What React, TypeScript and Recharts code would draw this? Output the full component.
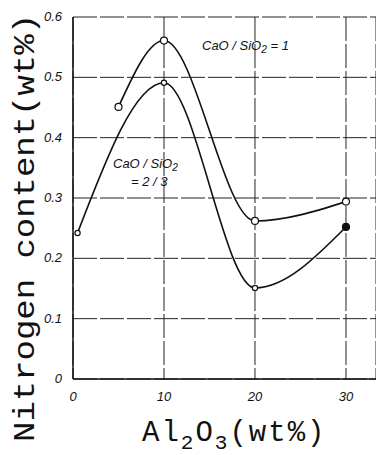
import React from "react";
import { LineChart, Line, XAxis, YAxis, CartesianGrid } from "recharts";

// CaO/SiO2 = 1 (open circles)
const ratio1Al2O3 = [5, 10, 20, 30];
const ratio1Nitrogen = [0.451, 0.561, 0.262, 0.294];

// CaO/SiO2 = 2/3
const ratio23Al2O3 = [0.5, 10, 20, 30];
const ratio23Nitrogen = [0.242, 0.491, 0.151, 0.252];

const xTicks = [0, 10, 20, 30];
const yTicks = [0, 0.1, 0.2, 0.3, 0.4, 0.5, 0.6];

const ratio1Data = ratio1Al2O3.map((x, i) => ({ x, n: ratio1Nitrogen[i] }));
const ratio23Data = ratio23Al2O3.map((x, i) => ({ x, n: ratio23Nitrogen[i] }));

const tickFont = "'Liberation Sans', Arial, sans-serif";
const monoFont = "'Liberation Mono', 'DejaVu Sans Mono', monospace";

const XTick = (props: any) => {
  const { x, y, payload } = props;
  return (
    <text
      x={x}
      y={y + 14}
      textAnchor="middle"
      fontFamily={tickFont}
      fontStyle="italic"
      fontSize={13}
      fill="#111"
    >
      {payload.value}
    </text>
  );
};

const YTick = (props: any) => {
  const { x, y, payload } = props;
  const v = payload.value === 0 ? "0" : Number(payload.value).toFixed(1);
  return (
    <text
      x={x - 3}
      y={y + 4}
      textAnchor="end"
      fontFamily={tickFont}
      fontStyle="italic"
      fontSize={13}
      fill="#111"
    >
      {v}
    </text>
  );
};

const OpenDot = (props: any) => {
  const { cx, cy } = props;
  return <circle cx={cx} cy={cy} r={3.5} fill="#fff" stroke="#111" strokeWidth={1.2} />;
};

const SmallDot = (props: any) => {
  const { cx, cy, index } = props;
  const last = index === ratio23Data.length - 1;
  return (
    <circle
      cx={cx}
      cy={cy}
      r={last ? 3.5 : 2.6}
      fill={last ? "#111" : "#fff"}
      stroke="#111"
      strokeWidth={1.2}
    />
  );
};

export default function App() {
  return (
    <div style={{ position: "absolute", left: 0, top: 0, width: 376, height: 455, background: "#fff" }}>
      <LineChart
        width={376}
        height={455}
        margin={{ top: 17, right: 0, bottom: 0, left: 0 }}
      >
        <CartesianGrid stroke="#222" strokeDasharray="24 3" strokeWidth={1} />
        <XAxis
          type="number"
          dataKey="x"
          domain={[0, 33.3]}
          ticks={xTicks}
          height={76}
          tickLine={false}
          axisLine={{ stroke: "#111", strokeWidth: 1.5 }}
          tick={<XTick />}
          allowDataOverflow
        />
        <YAxis
          type="number"
          dataKey="n"
          domain={[0, 0.6]}
          ticks={yTicks}
          width={73}
          tickLine={false}
          axisLine={{ stroke: "#111", strokeWidth: 1.5 }}
          tick={<YTick />}
        />
        <Line
          data={ratio1Data}
          dataKey="n"
          type="monotone"
          stroke="#111"
          strokeWidth={1.6}
          dot={<OpenDot />}
          isAnimationActive={false}
        />
        <Line
          data={ratio23Data}
          dataKey="n"
          type="monotone"
          stroke="#111"
          strokeWidth={1.6}
          dot={<SmallDot />}
          isAnimationActive={false}
        />
      </LineChart>
      <svg
        width={376}
        height={455}
        style={{ position: "absolute", left: 0, top: 0, pointerEvents: "none" }}
      >
        <text
          transform="translate(34, 228) rotate(-90)"
          textAnchor="middle"
          fontFamily={monoFont}
          fontSize={29}
          fill="#111"
          textLength={428}
          lengthAdjust="spacingAndGlyphs"
        >
          Nitrogen content(wt%)
        </text>
        <text x={142} y={441} fontFamily={monoFont} fontSize={29} letterSpacing={2} fill="#111">
          Al<tspan dy={8} fontSize={21}>2</tspan>
          <tspan dy={-8}>O</tspan>
          <tspan dy={8} fontSize={21}>3</tspan>
          <tspan dy={-8}>(wt%)</tspan>
        </text>
        <text x={202} y={50} fontFamily={tickFont} fontStyle="italic" fontSize={13} fill="#111">
          CaO / SiO<tspan dy={3} fontSize={10}>2</tspan>
          <tspan dy={-3}> = 1</tspan>
        </text>
        <text x={113} y={168} fontFamily={tickFont} fontStyle="italic" fontSize={13} fill="#111">
          CaO / SiO<tspan dy={3} fontSize={10}>2</tspan>
        </text>
        <text x={131} y={186} fontFamily={tickFont} fontStyle="italic" fontSize={13} fill="#111">
          = 2 / 3
        </text>
      </svg>
    </div>
  );
}
